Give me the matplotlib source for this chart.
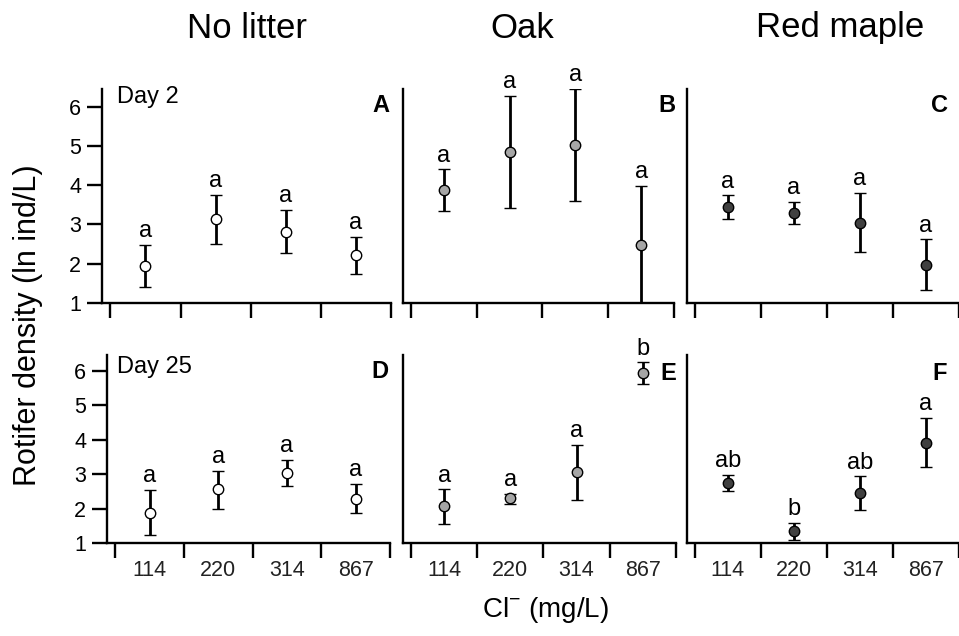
import matplotlib
matplotlib.use("Agg")
import matplotlib.pyplot as plt
import numpy as np

plt.rcParams['font.family'] = ['Liberation Sans', 'DejaVu Sans']
plt.rcParams['mathtext.fontset'] = 'custom'
plt.rcParams['mathtext.rm'] = 'Liberation Sans'

categories = ['114', '220', '314', '867']
columns = ['No litter', 'Oak', 'Red maple']
days = ['Day 2', 'Day 25']
panel_ids = ['A', 'B', 'C', 'D', 'E', 'F']

# Day 2 (means and error-bar bounds, ln ind/L)
nolitter_d2_mean = [1.94, 3.13, 2.81, 2.21]
nolitter_d2_lo = [1.41, 2.51, 2.27, 1.75]
nolitter_d2_hi = [2.48, 3.75, 3.37, 2.68]
oak_d2_mean = [3.87, 4.84, 5.03, 2.48]
oak_d2_lo = [3.35, 3.42, 3.61, 1.00]
oak_d2_hi = [4.40, 6.28, 6.45, 3.99]
maple_d2_mean = [3.44, 3.28, 3.05, 1.96]
maple_d2_lo = [3.13, 3.00, 2.30, 1.33]
maple_d2_hi = [3.74, 3.57, 3.80, 2.62]

# Day 25
nolitter_d25_mean = [1.88, 2.56, 3.03, 2.28]
nolitter_d25_lo = [1.24, 1.98, 2.66, 1.86]
nolitter_d25_hi = [2.54, 3.10, 3.42, 2.71]
oak_d25_mean = [2.07, 2.30, 3.05, 5.94]
oak_d25_lo = [1.56, 2.12, 2.24, 5.61]
oak_d25_hi = [2.56, 2.43, 3.85, 6.24]
maple_d25_mean = [2.75, 1.34, 2.44, 3.90]
maple_d25_lo = [2.52, 1.10, 1.96, 3.20]
maple_d25_hi = [2.98, 1.59, 2.93, 4.63]

letters_A = ['a', 'a', 'a', 'a']
letters_B = ['a', 'a', 'a', 'a']
letters_C = ['a', 'a', 'a', 'a']
letters_D = ['a', 'a', 'a', 'a']
letters_E = ['a', 'a', 'a', 'b']
letters_F = ['ab', 'b', 'ab', 'a']

panels = [
    (nolitter_d2_mean, nolitter_d2_lo, nolitter_d2_hi, letters_A),
    (oak_d2_mean, oak_d2_lo, oak_d2_hi, letters_B),
    (maple_d2_mean, maple_d2_lo, maple_d2_hi, letters_C),
    (nolitter_d25_mean, nolitter_d25_lo, nolitter_d25_hi, letters_D),
    (oak_d25_mean, oak_d25_lo, oak_d25_hi, letters_E),
    (maple_d25_mean, maple_d25_lo, maple_d25_hi, letters_F),
]
face_colors = ['white', '#a6a6a6', '#404040']

W, H = 959, 636
fig = plt.figure(figsize=(W / 100, H / 100), dpi=100)

# axes boxes in pixels: (left, right, top, bottom)
boxes = [
    (102, 391, 89, 303), (403, 674, 89, 303), (687, 959, 89, 303),
    (107, 390, 355, 543), (403, 676, 355, 543), (687, 959, 355, 543),
]
letter_pos = [(0.993, 0.925), (1.007, 0.925), (0.96, 0.925),
              (0.996, 0.91), (1.0, 0.904), (0.956, 0.904)]
day_pos = [(0.052, 0.963), (0.035, 0.936)]

x = np.arange(1, len(categories) + 1)
for i, (mean, lo, hi, lets) in enumerate(panels):
    l, r, t, b = boxes[i]
    ax = fig.add_axes([l / W, 1 - b / H, (r - l) / W, (b - t) / H])
    row, col = divmod(i, 3)
    mean = np.array(mean); lo = np.array(lo); hi = np.array(hi)
    ax.errorbar(x, mean, yerr=[mean - lo, hi - mean], fmt='o', color='black',
                ecolor='black', elinewidth=2.0, capsize=4.5, capthick=2.0,
                markersize=7.5, markerfacecolor=face_colors[col],
                markeredgecolor='black', markeredgewidth=1.0, zorder=3)
    for xi, h, s in zip(x, hi, lets):
        ax.annotate(s, (xi, h), xytext=(0, 5.5), textcoords='offset points',
                    ha='center', va='baseline', fontsize=17, annotation_clip=False)
    ax.set_xlim(0.38, 4.5)
    ax.set_ylim(1, 6.45)
    for sp in ['top', 'right']:
        ax.spines[sp].set_visible(False)
    for sp in ['left', 'bottom']:
        ax.spines[sp].set_linewidth(1.7)
    ax.set_xticks(np.arange(0.5, 4.6, 1.0))
    ax.set_xticklabels([])
    ax.tick_params(axis='x', which='major', direction='out', length=11, width=1.7)
    if row == 1:
        ax.set_xticks(x, minor=True)
        ax.set_xticklabels(categories, minor=True, fontsize=15.5, color='#222222')
        ax.tick_params(axis='x', which='minor', length=0, pad=12)
    if col == 0:
        ax.set_yticks([1, 2, 3, 4, 5, 6])
        ax.tick_params(axis='y', direction='out', length=11, width=1.7,
                       labelsize=15.5, pad=4)
        ax.text(day_pos[row][0], day_pos[row][1], days[row], transform=ax.transAxes,
                ha='left', va='center', fontsize=17)
    else:
        ax.set_yticks([])
    ax.text(letter_pos[i][0], letter_pos[i][1], panel_ids[i], transform=ax.transAxes,
            ha='right', va='center', fontsize=17, fontweight='bold')

title_x = [247, 522, 840]
for tx, name in zip(title_x, columns):
    fig.text(tx / W, 1 - 28 / H, name, ha='center', va='center', fontsize=25)

fig.text(28 / W, 1 - 325 / H, 'Rotifer density (ln ind/L)', rotation=90,
         ha='center', va='center', fontsize=22)
fig.text(545 / W, 1 - 610 / H, r'Cl$^{-}$ (mg/L)', ha='center', va='center',
         fontsize=20)

fig.savefig('out.png', dpi=100)
